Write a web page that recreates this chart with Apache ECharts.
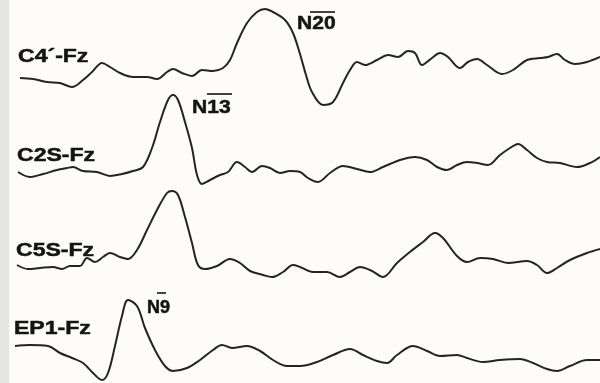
<!DOCTYPE html>
<html>
<head>
<meta charset="utf-8">
<script src="https://cdn.jsdelivr.net/npm/echarts@6/dist/echarts.min.js"></script>
<style>
html,body{margin:0;padding:0;background:#fdfcf8;}
#chart{width:600px;height:383px;}
</style>
</head>
<body>
<div id="chart"></div>
<script>
// Trace names
const traceNames = ['C4´-Fz', 'C2S-Fz', 'C5S-Fz', 'EP1-Fz'];
// Peak labels
const peakLabels = ['N20', 'N13', 'N9'];

// C4´-Fz: sample positions and amplitudes (up = positive)
const c4Time = [20,33,47,60,72,83,92,102,110,120,133,147,157,167,173,182,192,202,213,223,230,237,247,257,265,273,285,293,300,306,312,323,333,343,350,357,365,377,388,398,408,415,422,432,440,448,460,468,477,487,502,513,527,540,548,557,565,575,587,600];
const c4Amp  = [0,-1,-4,-5,-9,-2,6,15,11,5,1,1,-1,6,9,5,2,8,7,10,18,35,55,66,69,66,58,45,24,3,-14,-27,-24,-5,8,16,13,18,23,21,27,25,13,20,25,21,10,16,19,13,4,8,18,20,21,24,18,14,16,21];

// C2S-Fz
const c2Time = [18,30,43,57,67,73,83,97,110,122,133,143,152,160,168,173,178,185,192,197,202,210,220,228,237,245,252,262,270,280,290,300,308,318,330,343,357,370,383,400,415,427,437,447,457,467,477,488,500,510,518,527,537,547,560,577,590,600];
const c2Amp  = [0,-5,-2,2,4,5,1,0,-4,-2,1,5,24,50,72,77,72,50,24,-3,-12,-8,-3,0,10,5,0,6,4,-1,1,0,-6,-10,-1,6,3,0,5,12,15,12,5,2,7,10,9,7,17,24,28,22,14,10,9,5,9,15];

// C5S-Fz
const c5Time = [17,28,40,53,62,70,80,87,95,103,110,120,128,137,147,157,167,172,178,185,192,198,205,217,230,240,250,263,272,283,293,300,313,327,340,350,360,372,383,397,410,423,435,443,457,467,480,493,508,527,537,547,557,570,587,600];
const c5Amp  = [2,-2,-1,0,-2,1,1,9,5,10,14,10,8,17,37,57,74,76,72,50,24,2,-2,1,8,4,-4,-8,-10,-5,2,0,-5,-5,-10,-5,0,-4,-10,4,15,25,34,29,11,5,9,8,4,6,2,-6,-1,7,14,18];

// EP1-Fz
const epTime = [15,30,48,60,72,83,93,102,108,115,122,128,137,145,155,165,173,187,200,213,222,232,247,260,273,287,300,317,333,350,363,377,387,397,413,427,440,457,467,483,500,520,533,547,557,570,587,600];
const epAmp  = [0,1,0,-7,-12,-17,-27,-34,-27,0,30,46,40,18,-4,-20,-25,-22,-14,-4,1,-2,0,-5,-14,-20,-20,-16,-9,-3,-9,-15,-17,-9,0,-5,-10,-9,-12,-16,-14,-13,-17,-23,-25,-20,-14,-14];

// layout: baseline of each trace (in axis units from top)
const baselines = [78, 172, 267, 346];
const times = [c4Time, c2Time, c5Time, epTime];
const amps = [c4Amp, c2Amp, c5Amp, epAmp];

const chart = echarts.init(document.getElementById('chart'), null, {renderer: 'canvas'});

const series = times.map((t, k) => ({
  name: traceNames[k],
  type: 'line',
  smooth: 0.35,
  showSymbol: false,
  silent: true,
  lineStyle: {color: '#242424', width: 2},
  data: t.map((x, i) => [x, amps[k][i] - baselines[k]])
}));

const font = 'bold 18px "Liberation Sans", Arial, sans-serif';
const labelPos = [[18, 57], [17, 156], [16, 251], [14, 329]];
const peakPos = [[297, 24], [192, 108], [147, 308]];
const bars = [[310, 335, 12], [207, 232, 94], [157, 166, 293]];

const graphics = [
  {type: 'rect', left: 0, top: 0, shape: {width: 9, height: 383}, style: {fill: '#e4e4e2'}, z: -1}
];
traceNames.forEach((n, k) => {
  graphics.push({
    type: 'text', x: labelPos[k][0], y: labelPos[k][1], scaleX: 1.28, scaleY: 1,
    style: {text: n, fill: '#141414', font: font, textAlign: 'left', textVerticalAlign: 'middle',
            stroke: '#141414', lineWidth: 0.5}
  });
});
peakLabels.forEach((n, k) => {
  graphics.push({
    type: 'text', x: peakPos[k][0], y: peakPos[k][1], scaleX: k === 2 ? 1.0 : 1.17, scaleY: 1,
    style: {text: n, fill: '#141414', font: font, textAlign: 'left', textVerticalAlign: 'middle',
            stroke: '#141414', lineWidth: 0.5}
  });
  graphics.push({
    type: 'line', shape: {x1: bars[k][0], y1: bars[k][2], x2: bars[k][1], y2: bars[k][2]},
    style: {stroke: '#141414', lineWidth: 1.6}
  });
});

chart.setOption({
  backgroundColor: '#fdfcf8',
  animation: false,
  grid: {left: 0, right: 0, top: 0, bottom: 0},
  xAxis: {type: 'value', min: 0, max: 600, show: false},
  yAxis: {type: 'value', min: -383, max: 0, show: false},
  series: series,
  graphic: graphics
});
</script>
</body>
</html>
